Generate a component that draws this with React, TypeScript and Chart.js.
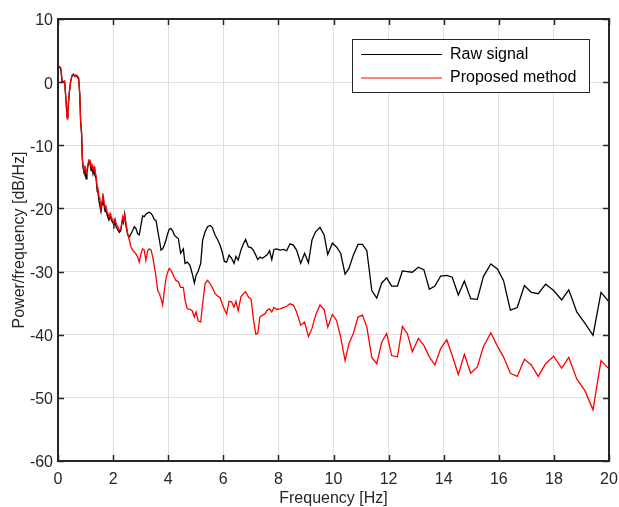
import React, { useEffect, useRef } from "react";
import { Chart, registerables } from "chart.js";

Chart.register(...registerables);

const freq = [
  0.0, 0.05, 0.1, 0.15, 0.19, 0.24, 0.29, 0.33, 0.36, 0.41, 0.46, 0.51, 0.56, 0.61, 0.65, 0.7, 0.75, 0.79, 0.82, 0.86,
  0.88, 0.91, 0.94, 0.98, 1.02, 1.05, 1.09, 1.13, 1.16, 1.2, 1.23, 1.27, 1.31, 1.34, 1.38, 1.42, 1.45, 1.49, 1.52, 1.56,
  1.6, 1.63, 1.67, 1.71, 1.74, 1.78, 1.81, 1.85, 1.89, 1.92, 1.96, 2.0, 2.03, 2.07, 2.11, 2.17, 2.23, 2.28, 2.31, 2.35,
  2.38, 2.42, 2.47, 2.53, 2.59, 2.65, 2.71, 2.77, 2.83, 2.89, 2.95, 3.01, 3.07, 3.13, 3.19, 3.26, 3.31, 3.38, 3.44, 3.5,
  3.56, 3.62, 3.68, 3.74, 3.8, 3.86, 3.92, 3.98, 4.04, 4.1, 4.16, 4.22, 4.28, 4.37, 4.45, 4.55, 4.61, 4.69, 4.79, 4.87,
  4.95, 5.01, 5.09, 5.18, 5.25, 5.34, 5.43, 5.52, 5.6, 5.7, 5.8, 5.88, 5.96, 6.04, 6.12, 6.21, 6.3, 6.39, 6.46, 6.54,
  6.64, 6.73, 6.81, 6.91, 7.01, 7.09, 7.18, 7.25, 7.33, 7.42, 7.51, 7.6, 7.68, 7.76, 7.84, 7.94, 8.06, 8.18, 8.3, 8.42,
  8.54, 8.66, 8.81, 8.95, 9.09, 9.22, 9.35, 9.51, 9.66, 9.79, 9.96, 10.11, 10.26, 10.42, 10.56, 10.72, 10.89, 11.05, 11.21, 11.39,
  11.57, 11.75, 11.93, 12.11, 12.32, 12.5, 12.68, 12.86, 13.08, 13.28, 13.48, 13.68, 13.89, 14.11, 14.31, 14.53, 14.75, 14.98, 15.22, 15.44,
  15.71, 15.95, 16.17, 16.42, 16.67, 16.93, 17.18, 17.43, 17.7, 17.99, 18.28, 18.54, 18.83, 19.13, 19.42, 19.71, 20.0,
];

const rawSignal = [
  2.3, 2.4, 2.1, 0.0, 0.1, 0.0, -2.8, -5.5, -4.5, -1.6, 0.2, 1.0, 1.2, 0.9, 1.1, 0.8, 0.5, -2.0, -6.2, -8.5,
  -12.0, -13.6, -14.2, -14.0, -15.3, -14.3, -13.2, -12.5, -12.8, -14.0, -13.2, -14.5, -13.8, -14.8, -15.2, -17.2, -17.5, -18.9, -19.6, -20.5,
  -19.3, -18.0, -19.5, -20.5, -20.0, -21.0, -21.4, -21.8, -21.2, -21.6, -22.0, -22.3, -22.7, -22.0, -22.9, -23.4, -23.8, -23.5, -22.6, -21.6,
  -22.2, -20.9, -22.8, -24.2, -24.5, -24.0, -23.5, -22.9, -23.2, -24.0, -24.2, -22.7, -21.2, -21.3, -20.9, -20.7, -20.6, -20.8, -21.2, -21.8,
  -21.9, -23.5, -25.0, -26.6, -26.4, -25.8, -25.0, -24.0, -23.3, -23.2, -23.5, -24.2, -24.5, -24.8, -27.1, -26.4, -28.7, -28.5, -29.0, -30.3,
  -31.8, -30.6, -29.9, -28.7, -25.0, -23.7, -22.9, -22.7, -23.0, -24.2, -25.0, -25.8, -26.9, -28.4, -28.5, -27.4, -27.9, -28.7, -27.6, -28.2,
  -26.6, -25.6, -24.9, -26.1, -26.2, -26.6, -27.4, -28.1, -27.7, -27.9, -27.6, -27.3, -26.7, -28.1, -26.5, -26.4, -26.6, -26.5, -26.7, -25.6,
  -25.8, -26.6, -28.7, -27.1, -28.6, -25.0, -23.7, -23.0, -24.2, -27.3, -25.5, -26.1, -27.1, -30.4, -29.5, -27.4, -25.7, -25.7, -26.7, -33.0,
  -34.2, -31.8, -31.0, -32.3, -32.3, -29.9, -30.0, -30.1, -29.3, -29.7, -32.8, -32.3, -30.7, -30.6, -30.9, -33.7, -31.5, -34.3, -34.4, -30.8,
  -28.8, -29.6, -31.4, -36.1, -35.7, -32.2, -33.3, -33.5, -32.0, -33.0, -34.5, -32.9, -36.4, -38.2, -40.1, -33.3, -34.8,
];

const proposedMethod = [
  2.2, 2.5, 2.3, 0.3, 0.05, 0.2, -2.9, -5.8, -4.4, -1.8, 0.05, 1.1, 1.3, 1.0, 1.1, 1.0, 0.7, -1.8, -6.0, -8.1,
  -11.8, -13.2, -13.7, -13.4, -14.5, -13.9, -12.9, -12.3, -12.4, -13.4, -12.9, -13.9, -13.4, -14.2, -14.7, -16.6, -16.8, -18.2, -18.7, -20.0,
  -18.7, -17.6, -19.0, -19.8, -19.5, -20.6, -20.8, -21.3, -20.8, -21.3, -21.6, -21.9, -22.1, -21.6, -22.4, -22.9, -23.5, -23.2, -22.4, -21.3,
  -21.9, -21.1, -22.4, -24.0, -25.0, -26.1, -26.6, -26.9, -27.2, -27.7, -28.5, -27.2, -26.4, -26.6, -28.2, -26.6, -26.4, -26.6, -27.7, -29.3,
  -30.9, -33.0, -33.5, -34.3, -35.3, -33.0, -31.1, -30.1, -29.5, -29.8, -30.3, -30.9, -31.4, -31.6, -32.5, -32.5, -34.5, -35.9, -36.0, -36.2,
  -37.2, -36.4, -37.8, -38.0, -35.1, -31.9, -31.4, -31.9, -32.5, -33.5, -33.9, -34.1, -35.1, -36.0, -36.7, -34.7, -34.8, -35.6, -34.7, -36.2,
  -34.0, -33.5, -33.2, -34.0, -34.4, -37.4, -39.9, -39.8, -37.2, -36.9, -36.7, -36.1, -35.9, -36.4, -35.7, -36.0, -35.9, -35.7, -35.5, -35.1,
  -35.3, -36.4, -38.5, -38.0, -40.3, -39.0, -36.9, -35.3, -36.0, -38.8, -36.8, -37.7, -40.4, -44.1, -41.4, -39.8, -37.2, -36.9, -38.8, -43.6,
  -44.6, -41.2, -39.8, -43.3, -43.5, -38.7, -39.8, -42.7, -40.6, -41.7, -43.5, -44.8, -42.2, -40.8, -43.3, -46.3, -43.1, -46.1, -45.1, -41.9,
  -39.7, -41.8, -43.5, -46.1, -46.6, -43.9, -44.8, -46.6, -44.6, -43.4, -45.3, -43.6, -47.0, -48.9, -51.9, -44.1, -45.4,
];

const seriesLabels = ["Raw signal", "Proposed method"];
const seriesColors = ["#000000", "#ff0000"];
const xAxisTitle = "Frequency [Hz]";
const yAxisTitle = "Power/frequency [dB/Hz]";

const FONT = "'Liberation Sans', Arial, Helvetica, sans-serif";
const AXIS_COLOR = "#262626";

export default function App() {
  const ref = useRef<HTMLCanvasElement>(null);

  useEffect(() => {
    const canvas = ref.current;
    if (!canvas) return;

    const framePlugin = {
      id: "frameTicks",
      afterDraw(chart: any) {
        const { ctx, chartArea } = chart;
        const { left, right, top, bottom } = chartArea;
        const xs = chart.scales.x;
        const ys = chart.scales.y;
        const tl = 6;
        ctx.save();
        ctx.strokeStyle = AXIS_COLOR;
        ctx.lineWidth = 1.5;
        ctx.beginPath();
        xs.ticks.forEach((t: any) => {
          const px = Math.round(xs.getPixelForValue(t.value)) + 0.5;
          ctx.moveTo(px, bottom);
          ctx.lineTo(px, bottom - tl);
          ctx.moveTo(px, top);
          ctx.lineTo(px, top + tl);
        });
        ys.ticks.forEach((t: any) => {
          const py = Math.round(ys.getPixelForValue(t.value)) + 0.5;
          ctx.moveTo(left, py);
          ctx.lineTo(left + tl, py);
          ctx.moveTo(right, py);
          ctx.lineTo(right - tl, py);
        });
        ctx.stroke();
        ctx.lineWidth = 2;
        ctx.strokeRect(left, top, right - left, bottom - top);

        // legend
        const bx = 352.5, by = 39.5, bw = 237, bh = 53;
        ctx.fillStyle = "#ffffff";
        ctx.fillRect(bx, by, bw, bh);
        ctx.lineWidth = 1;
        ctx.strokeStyle = AXIS_COLOR;
        ctx.strokeRect(bx, by, bw, bh);
        ctx.font = `16px ${FONT}`;
        ctx.textBaseline = "middle";
        ctx.textAlign = "left";
        chart.data.datasets.forEach((ds: any, i: number) => {
          const yy = 54.5 + i * 23.5;
          ctx.strokeStyle = ds.borderColor;
          ctx.lineWidth = 1.2;
          ctx.beginPath();
          ctx.moveTo(361, yy);
          ctx.lineTo(442, yy);
          ctx.stroke();
          ctx.fillStyle = "#000000";
          ctx.fillText(ds.label, 450, yy);
        });
        ctx.restore();
      },
    };

    const tickFont = { family: FONT, size: 16 };

    const chart = new Chart(canvas, {
      type: "line",
      data: {
        datasets: [
          {
            label: seriesLabels[0],
            data: freq.map((f, i) => ({ x: f, y: rawSignal[i] })),
            borderColor: seriesColors[0],
            backgroundColor: seriesColors[0],
            borderWidth: 1.3,
            pointRadius: 0,
            tension: 0,
            order: 1,
          },
          {
            label: seriesLabels[1],
            data: freq.map((f, i) => ({ x: f, y: proposedMethod[i] })),
            borderColor: seriesColors[1],
            backgroundColor: seriesColors[1],
            borderWidth: 1.3,
            pointRadius: 0,
            tension: 0,
            order: 0,
          },
        ],
      },
      options: {
        animation: false,
        responsive: false,
        devicePixelRatio: 1,
        layout: { padding: { top: 19, right: 10, left: 0, bottom: 0 } },
        plugins: {
          legend: { display: false },
          tooltip: { enabled: false },
        },
        scales: {
          x: {
            type: "linear",
            min: 0,
            max: 20,
            ticks: { stepSize: 2, color: AXIS_COLOR, font: tickFont, padding: 9, maxRotation: 0 },
            grid: { color: "#dfdfdf", lineWidth: 1, drawTicks: false },
            border: { display: false },
            title: {
              display: true,
              text: xAxisTitle,
              color: AXIS_COLOR,
              font: { family: FONT, size: 16, lineHeight: 1 },
              padding: { top: 0, bottom: 0 },
            },
            afterFit(s: any) {
              s.height = 46;
              s.paddingLeft = 0;
              s.paddingRight = 0;
            },
          },
          y: {
            type: "linear",
            min: -60,
            max: 10,
            ticks: { stepSize: 10, color: AXIS_COLOR, font: tickFont, padding: 5, labelOffset: 2 },
            grid: { color: "#dfdfdf", lineWidth: 1, drawTicks: false },
            border: { display: false },
            title: {
              display: true,
              text: yAxisTitle,
              color: AXIS_COLOR,
              font: tickFont,
              padding: { top: 10, bottom: 0 },
            },
            afterFit(s: any) {
              s.width = 58;
              s.paddingTop = 0;
              s.paddingBottom = 0;
            },
          },
        },
      },
      plugins: [framePlugin],
    });

    return () => chart.destroy();
  }, []);

  return (
    <div style={{ position: "fixed", left: 0, top: 0, width: 619, height: 507, background: "#ffffff" }}>
      <canvas ref={ref} width={619} height={507} style={{ width: 619, height: 507, display: "block" }} />
    </div>
  );
}
